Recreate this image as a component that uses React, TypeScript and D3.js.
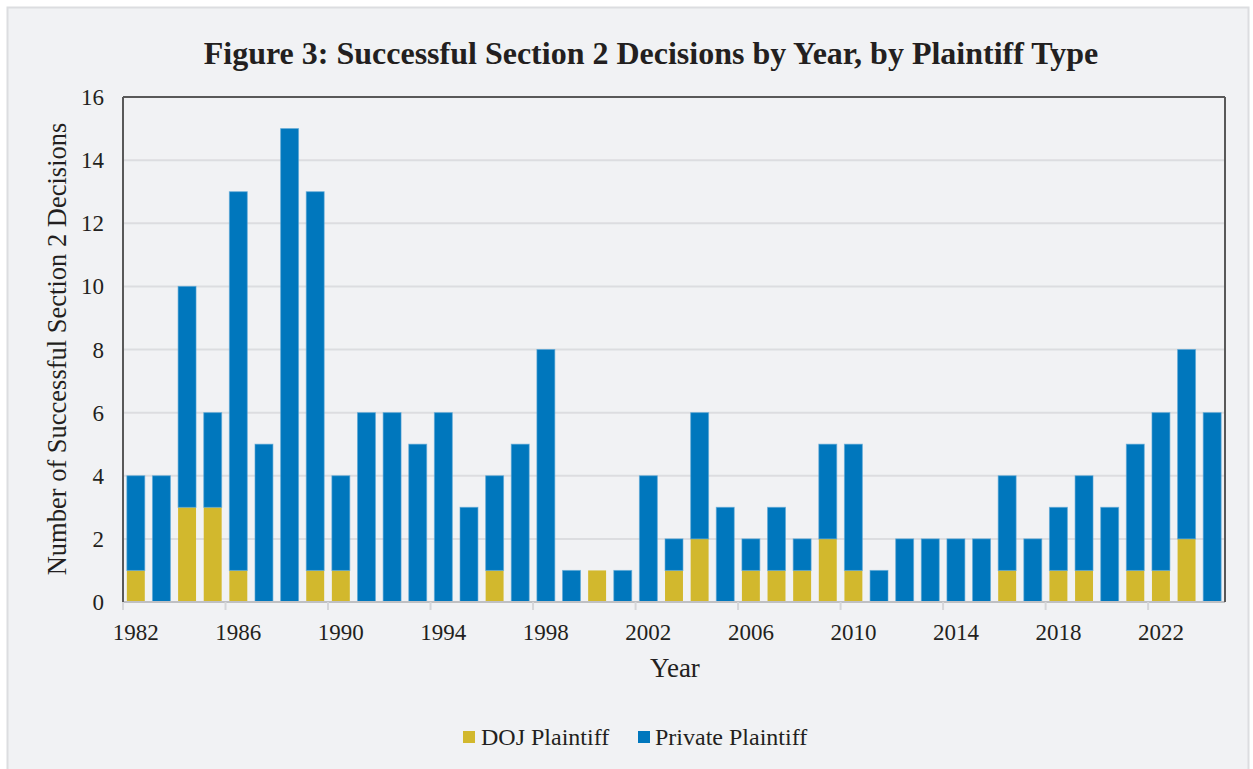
import React from "react";
import * as d3 from "d3";

const years = d3.range(1982, 2025).map(String);
const dojValues = [1,0,3,3,1,0,0,1,1,0,0,0,0,0,1,0,0,0,1,0,0,1,2,0,1,1,1,2,1,0,0,0,0,0,1,0,1,1,0,1,1,2,0];
const totalValues = [4,4,10,6,13,5,15,13,4,6,6,5,6,3,4,5,8,1,1,1,4,2,6,3,2,3,2,5,5,1,2,2,2,2,4,2,3,4,3,5,6,8,6];
const privateValues = totalValues.map((t, i) => t - dojValues[i]);
const yTicks = [0, 2, 4, 6, 8, 10, 12, 14, 16];
const xLabelYears = years.filter((_, i) => i % 4 === 0);
const seriesNames = ["DOJ Plaintiff", "Private Plaintiff"];
const colors = ["#d2b82d", "#0077bd"];

export default function App() {
  const W = 1253, H = 769;
  const left = 123, right = 1225, top = 97, bottom = 602;
  const x = d3.scaleBand().domain(years).range([left, right]).paddingInner(0.3).paddingOuter(0.15);
  const y = d3.scaleLinear().domain([0, 16]).range([bottom, top]);
  const step = x.step();
  const font = "'Liberation Serif', 'Times New Roman', serif";
  const stackData = years.map((yr, i) => ({ yr, doj: dojValues[i], priv: privateValues[i] }));
  const stack = d3.stack<any>().keys(["doj", "priv"])(stackData);

  return (
    <svg width={W} height={H} style={{ position: "absolute", left: 0, top: 0 }} fontFamily={font}>
      <rect x={0} y={0} width={W} height={H} fill="#ffffff" />
      <rect x={7.5} y={7.5} width={1241} height={770} fill="#f1f2f4" stroke="#dcdde0" strokeWidth={2} />
      <text x={651} y={64} textAnchor="middle" fontSize={32} fontWeight="bold" fill="#231f20">
        Figure 3: Successful Section 2 Decisions by Year, by Plaintiff Type
      </text>
      {yTicks.map((t) => (
        <g key={t}>
          {t > 0 && t < 16 && <line x1={left} x2={right} y1={y(t)} y2={y(t)} stroke="#dcdde0" strokeWidth={2} />}
          <text x={104} y={y(t) + 8} textAnchor="end" fontSize={23} fill="#231f20">{t}</text>
        </g>
      ))}
      {stack.map((s, si) =>
        s.map((d, i) => {
          const h = y(d[0]) - y(d[1]);
          if (h <= 0) return null;
          return (
            <rect key={si + "-" + i} x={x(years[i])} y={y(d[1])} width={x.bandwidth()} height={h}
              fill={colors[si]} stroke="#5aa7d6" strokeOpacity={si === 1 ? 0.6 : 0} strokeWidth={1} />
          );
        })
      )}
      <line x1={left} x2={right} y1={bottom} y2={bottom} stroke="#bfc0c3" strokeWidth={2} />
      {xLabelYears.map((yr) => {
        const bx = (x(yr) as number) - (step - x.bandwidth()) / 2;
        return (
          <g key={yr}>
            <line x1={bx} x2={bx} y1={bottom} y2={bottom + 8} stroke="#d5d6d9" strokeWidth={2} />
            <text x={(x(yr) as number) + x.bandwidth() / 2} y={640} textAnchor="middle" fontSize={23} fill="#231f20">{yr}</text>
          </g>
        );
      })}
      <line x1={left} x2={left} y1={top} y2={bottom} stroke="#595959" strokeWidth={2} />
      <line x1={left} x2={right} y1={top} y2={top} stroke="#595959" strokeWidth={2} />
      <line x1={right} x2={right} y1={top} y2={bottom} stroke="#595959" strokeWidth={2} />
      <text x={675} y={677} textAnchor="middle" fontSize={27} fill="#231f20">Year</text>
      <text transform={`translate(66,349) rotate(-90)`} textAnchor="middle" fontSize={26.5} fill="#231f20">
        Number of Successful Section 2 Decisions
      </text>
      <g>
        <rect x={463} y={731} width={12} height={12} fill={colors[0]} />
        <text x={481} y={745} fontSize={24} fill="#231f20">{seriesNames[0]}</text>
        <rect x={638} y={731} width={12} height={12} fill={colors[1]} />
        <text x={655} y={745} fontSize={24} fill="#231f20">{seriesNames[1]}</text>
      </g>
    </svg>
  );
}
